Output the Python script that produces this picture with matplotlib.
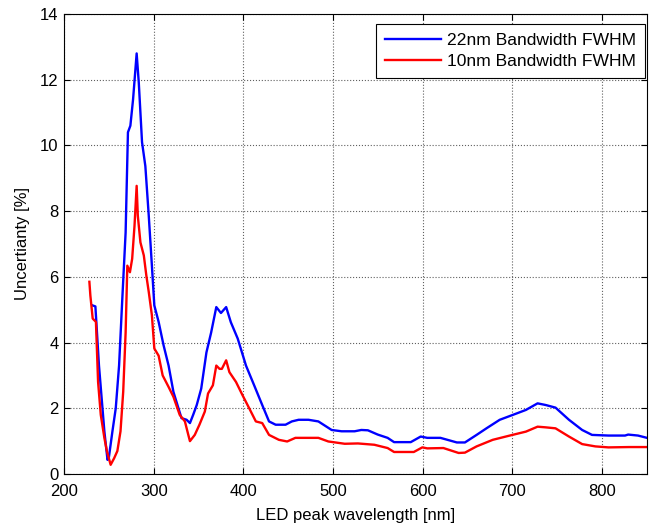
import matplotlib
matplotlib.use("Agg")
import matplotlib.pyplot as plt

wl_22 = [232, 235, 239, 245, 248.5, 250, 254, 257.7, 261.4, 265, 268.7, 271.3, 274, 277, 281,
         283.4, 287, 290.7, 294.5, 298, 300.7, 305.5, 311, 316.6, 322, 327.6, 331, 336.7, 340.4,
         344, 348, 353, 358.8, 364, 369.8, 375, 380.8, 386, 393.7, 402.9, 412, 421, 428.6, 436,
         447, 454, 461.6, 472.6, 483.6, 498.4, 509.5, 524, 531.5, 538.8, 549.8, 560.8, 568,
         586.6, 597.7, 605, 619.7, 638, 647, 660, 671, 685.8, 700.5, 715, 728, 737, 748, 763,
         777.7, 788.7, 807, 825.5, 829, 840, 850]
unc_22 = [5.13, 5.1, 3.3, 1.3, 0.43, 0.5, 1.3, 2.0, 3.3, 5.33, 7.35, 10.4, 10.6, 11.4, 12.8,
          11.9, 10.1, 9.37, 7.86, 6.34, 5.13, 4.63, 3.92, 3.3, 2.5, 2.0, 1.7, 1.65, 1.55,
          1.8, 2.1, 2.6, 3.7, 4.3, 5.08, 4.9, 5.08, 4.62, 4.12, 3.3, 2.7, 2.1, 1.6, 1.5,
          1.5, 1.6, 1.65, 1.65, 1.6, 1.34, 1.3, 1.3, 1.34, 1.33, 1.2, 1.1, 0.97,
          0.97, 1.14, 1.1, 1.1, 0.96, 0.96, 1.19, 1.39, 1.65, 1.8, 1.95, 2.15, 2.1, 2.02, 1.65,
          1.34, 1.19, 1.17, 1.17, 1.2, 1.17, 1.1]

wl_10 = [228.3, 229.4, 232, 235.6, 238, 241, 245, 247.8, 252, 255.9, 259.5, 263, 266, 268.7,
         270.6, 273.5, 276, 278.6, 281, 282.3, 285.2, 289, 291.8, 294.5, 298, 300.7, 305.5,
         310, 316.6, 322, 329, 334.8, 338.6, 340.4, 345.8, 351, 357, 360.6, 366, 369.8, 373.4,
         376, 380.8, 384.4, 391.8, 399, 406.5, 413.9, 421, 428.6, 439.6, 448.8, 458, 483.6,
         494.7, 513, 527.7, 546, 560.8, 568, 590, 599.5, 605, 623, 640, 647, 660, 678, 697,
         715, 728, 737, 748, 763, 777.7, 792.4, 807, 830, 850]
unc_10 = [5.85, 5.43, 4.73, 4.63, 2.8, 1.8, 1.1, 0.7, 0.28, 0.48, 0.7, 1.3, 2.5, 4.3,
          6.34, 6.14, 6.55, 7.55, 8.77, 7.86, 7.05, 6.65, 6.04, 5.54, 4.83, 3.82, 3.6,
          3.0, 2.65, 2.35, 1.8, 1.6, 1.19, 1.0, 1.19, 1.5, 1.9, 2.45, 2.7, 3.3, 3.2,
          3.2, 3.46, 3.1, 2.8, 2.4, 2.0, 1.6, 1.55, 1.19, 1.04, 0.99, 1.1, 1.1,
          0.99, 0.92, 0.93, 0.89, 0.79, 0.67, 0.67, 0.81, 0.78, 0.79, 0.64, 0.65, 0.84, 1.04, 1.17,
          1.29, 1.44, 1.42, 1.39, 1.14, 0.91, 0.84, 0.81, 0.82, 0.82]

x_ticks = [200, 300, 400, 500, 600, 700, 800]
y_ticks = [0, 2, 4, 6, 8, 10, 12, 14]

plt.rcParams['font.family'] = ['Liberation Sans', 'DejaVu Sans']
FS = 12

fig = plt.figure(figsize=(6.5, 5.27), dpi=100)
ax = fig.add_axes([64/650, 53/527, 583/650, 460/527])

ax.plot(wl_22, unc_22, color='#0000ff', lw=1.7, label='22nm Bandwidth FWHM')
ax.plot(wl_10, unc_10, color='#ff0000', lw=1.7, label='10nm Bandwidth FWHM')

ax.set_xlim(200, 850)
ax.set_ylim(0, 14)
ax.set_xticks(x_ticks)
ax.set_yticks(y_ticks)
ax.tick_params(direction='in', top=True, right=True, length=4, labelsize=FS,
               colors='black')
ax.tick_params(axis='x', pad=7)
ax.tick_params(axis='y', pad=4)
ax.grid(True, linestyle=':', color='#606060', linewidth=0.8)
for s in ax.spines.values():
    s.set_linewidth(0.8)
    s.set_color('black')

ax.set_xlabel('LED peak wavelength [nm]', fontsize=FS, labelpad=7)
ax.set_ylabel('Uncertianty [%]', fontsize=FS, labelpad=7)

leg = ax.legend(loc='upper right', bbox_to_anchor=(1 - 2/583, 1 - 10/460),
                fontsize=12.6, fancybox=False, framealpha=1,
                edgecolor='black', handlelength=3.2, handletextpad=0.35,
                borderaxespad=0, borderpad=0.5, labelspacing=0.35)
leg.get_frame().set_linewidth(0.8)

fig.savefig('out.png', dpi=100)
